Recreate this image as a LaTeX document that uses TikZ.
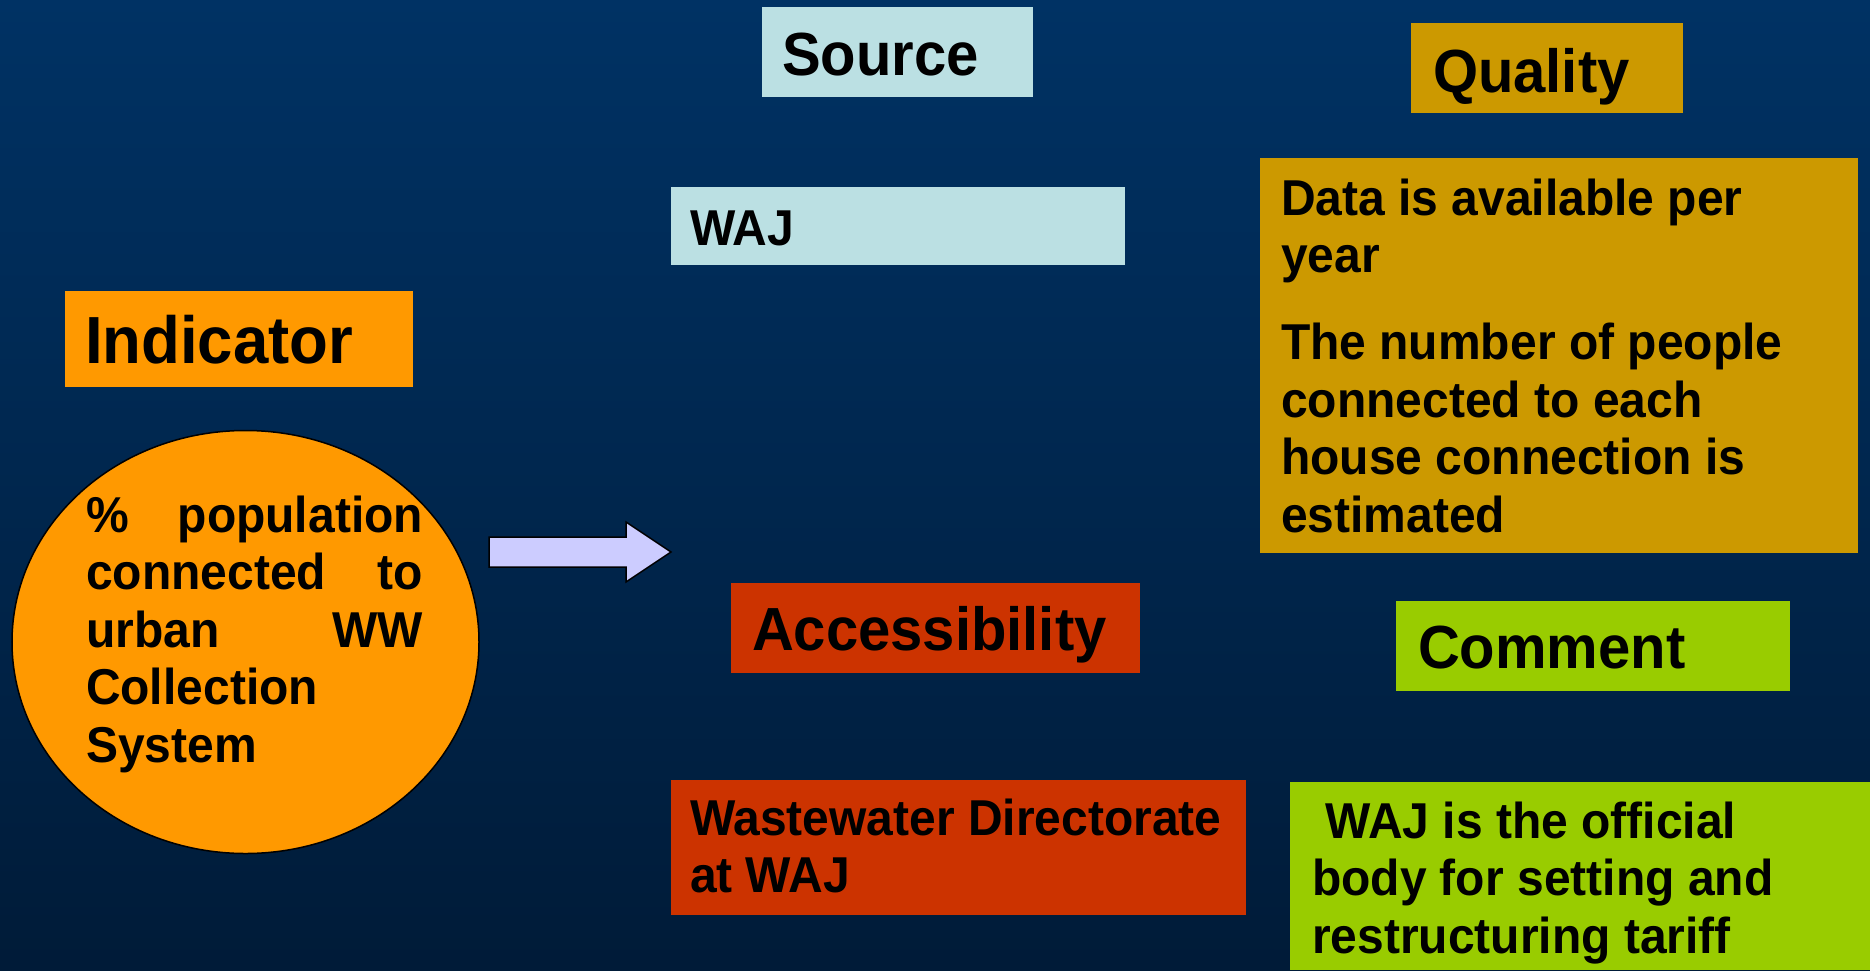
\documentclass[tikz,border=0pt]{standalone}
\usepackage{fontspec}
\usepackage{graphicx}
\setmainfont{Liberation Sans}
\usetikzlibrary{shapes.geometric}
\definecolor{bgtop}{RGB}{0,50,100}
\definecolor{bgbot}{RGB}{0,27,56}
\definecolor{srcc}{RGB}{187,224,227}
\definecolor{indc}{RGB}{255,153,0}
\definecolor{qualc}{RGB}{204,153,0}
\definecolor{accc}{RGB}{204,51,0}
\definecolor{comc}{RGB}{153,204,0}
\definecolor{arrc}{RGB}{204,204,255}
\newcommand{\vstr}[1]{\scalebox{1}[1.05]{#1}}
\tikzset{
  box/.style={rectangle, draw=none, inner sep=0pt, outer sep=0pt, anchor=north west},
  title/.style={anchor=base west, inner sep=0pt, outer sep=0pt, font=\bfseries\fontsize{58bp}{69.6bp}\selectfont},
  bigtitle/.style={title, font=\bfseries\fontsize{63.5bp}{76bp}\selectfont},
  body/.style={anchor=base west, inner sep=0pt, outer sep=0pt, font=\bfseries\fontsize{48bp}{54.86bp}\selectfont},
}
\begin{document}
\begin{tikzpicture}[x=1bp, y=-1bp]
\useasboundingbox (0,0) rectangle (1870,970);
\shade[top color=bgtop, bottom color=bgbot] (0,0) rectangle (1870,970);

% Source
\node[box, fill=srcc, minimum width=271bp, minimum height=90bp] (srcbox) at (762,7) {};
\node[title] (srctxt) at (782,75) {\vstr{Source}};
\node[box, fill=srcc, minimum width=454bp, minimum height=78bp] (wajbox) at (671,187) {};
\node[body] (wajtxt) at (690,245) {\vstr{WAJ}};

% Quality
\node[box, fill=qualc, minimum width=272bp, minimum height=90bp] (qualbox) at (1411,23) {};
\node[title] (qualtxt) at (1433,92) {\vstr{Quality}};
\node[box, fill=qualc, minimum width=598bp, minimum height=395bp] (qdbox) at (1260,158) {};
\node[body] (qdtxt) at (1281,215) {\vstr{\parbox[t]{570bp}{\raggedright\setlength{\parskip}{28bp}Data is available per\\year\par The number of people\\connected to each\\house connection is\\estimated}}};

% Indicator
\node[box, fill=indc, minimum width=348bp, minimum height=96bp] (indbox) at (65,291) {};
\node[bigtitle] (indtxt) at (85,363) {\vstr{Indicator}};
\node[ellipse, draw=black, line width=1.5bp, fill=indc, minimum width=467bp, minimum height=423bp, inner sep=0pt] (indell) at (245.5,642) {};
\node[body] (indelltxt) at (86,532) {\vstr{\parbox[t]{337bp}{\hbox to 337bp{\%\hfill population}\hbox to 337bp{connected\hfill to}\hbox to 337bp{urban\hfill WW}\hbox{Collection}\hbox{System}}}};

% Arrow
\coordinate (a0) at (489,537);
\draw[fill=arrc, draw=black, line width=1.5bp, line join=miter]
  (a0) -- (626,537) -- (626,522) -- (671,552) -- (626,582) -- (626,567) -- (489,567) -- cycle;

% Accessibility
\node[box, fill=accc, minimum width=409bp, minimum height=90bp] (accbox) at (731,583) {};
\node[title] (acctxt) at (752,650) {\vstr{Accessibility}};
\node[box, fill=accc, minimum width=575bp, minimum height=135bp] (wwbox) at (671,780) {};
\node[body] (wwtxt) at (690,835) {\vstr{\parbox[t]{560bp}{\raggedright Wastewater Directorate\\at WAJ}}};

% Comment
\node[box, fill=comc, minimum width=394bp, minimum height=90bp] (combox) at (1396,601) {};
\node[title] (comtxt) at (1418,668) {\vstr{Comment}};
\node[box, fill=comc, minimum width=580bp, minimum height=188bp] (cmbox) at (1290,782) {};
\node[body] (cmtxt) at (1312,838) {\vstr{\parbox[t]{556bp}{\raggedright\hspace*{0.278em}WAJ is the official\\body for setting and\\restructuring tariff}}};
\end{tikzpicture}
\end{document}
